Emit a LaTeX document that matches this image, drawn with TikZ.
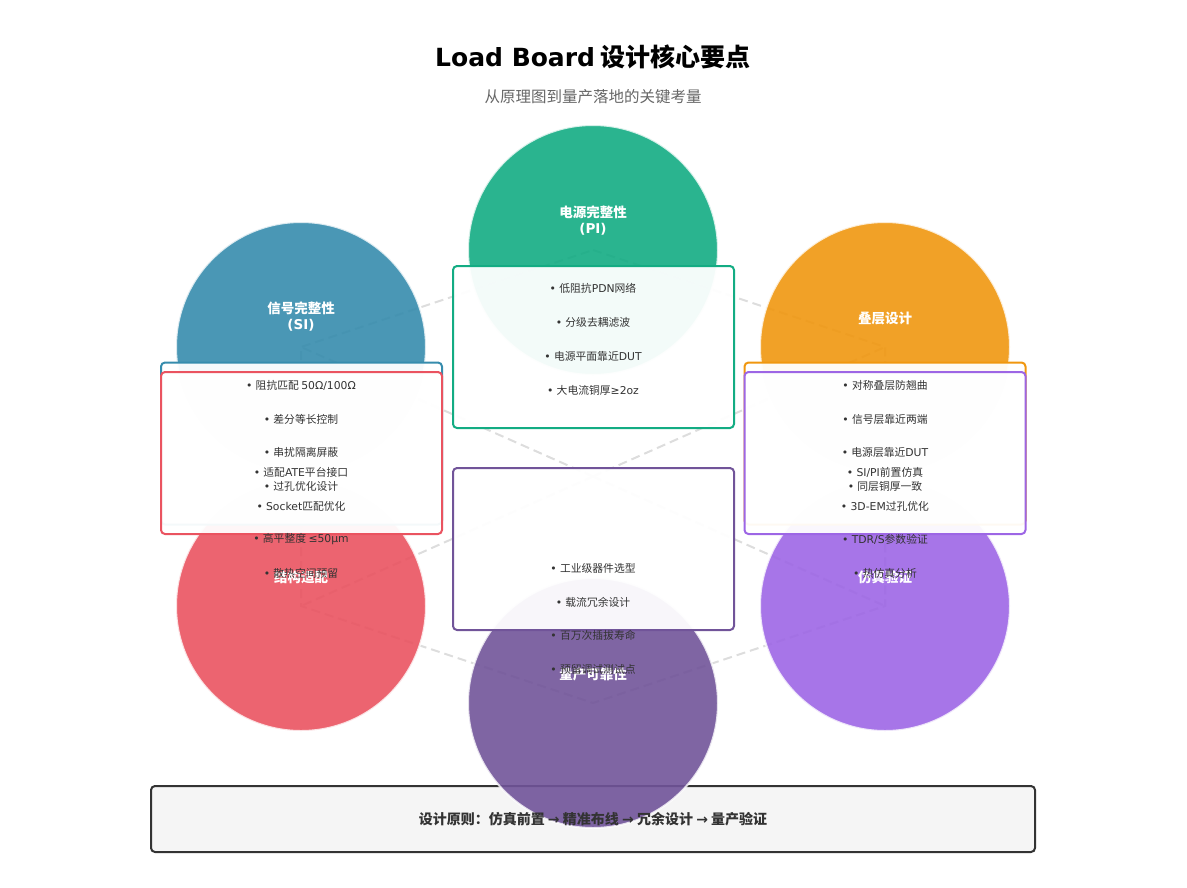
\documentclass[tikz,border=0pt]{standalone}
\usepackage{fontspec}
\setmainfont{Noto Sans CJK SC}
\newfontfamily\dejavu{DejaVu Sans}
\newcommand\bul{{\dejavu•}\hspace{0.3em}}
\newcommand\lat[1]{{\dejavu #1}}
\definecolor{cpi}{HTML}{13AC83}
\definecolor{csi}{HTML}{368CAD}
\definecolor{cst}{HTML}{F0970F}
\definecolor{cme}{HTML}{EA5360}
\definecolor{csim}{HTML}{9D66E5}
\definecolor{crel}{HTML}{715499}
\definecolor{txt}{HTML}{333333}
\definecolor{sub}{HTML}{666666}
\definecolor{hexline}{HTML}{DDDDDD}
\definecolor{footbg}{HTML}{F5F5F5}
\tikzset{
  circ/.style={circle, minimum size=250pt, inner sep=0pt, draw=white, draw opacity=0.8, line width=2pt, fill opacity=0.9},
  lab/.style={text=white, align=center, font=\fontsize{13.5}{16}\selectfont\bfseries},
  infobox/.style={rectangle, rounded corners=4pt, minimum width=281pt, minimum height=162pt, inner sep=0pt, fill=white, fill opacity=0.95, line width=2pt},
  item/.style={text=txt, font=\fontsize{10.8}{12}\selectfont, inner sep=0pt},
  hexl/.style={draw=hexline, line width=2pt, dash pattern=on 9pt off 5pt},
}
\begin{document}
\begin{tikzpicture}[x=1pt,y=-1pt]
\useasboundingbox (0,0) rectangle (1187,887);
% title
\node[font=\fontsize{25}{28}\selectfont\bfseries, text=black] (title) at (593,57) {{\dejavu\bfseries Load Board} 设计核心要点};
\node[font=\fontsize{15.5}{18}\selectfont, text=sub] (subtitle) at (593,97) {从原理图到量产落地的关键考量};
% vertex coordinates
\coordinate (vpi) at (593,250);
\coordinate (vst) at (885,347);
\coordinate (vsim) at (885,606);
\coordinate (vrel) at (593,703);
\coordinate (vme) at (301,606);
\coordinate (vsi) at (301,347);
\coordinate (hc) at (593,476.5);
% hexagon and spokes
\draw[hexl] (vpi) -- (vst) -- (vsim) -- (vrel) -- (vme) -- (vsi) -- cycle;
\foreach \v in {vst,vsim,vme,vsi} \draw[hexl] (hc) -- (\v);
% footer box
\node[rectangle, rounded corners=4pt, minimum width=884pt, minimum height=66pt, fill=footbg, draw=txt, line width=2pt] (foot) at (593,819) {};
% circles
\node[circ, fill=cpi] (pi) at (vpi) {};
\node[circ, fill=csi] (si) at (vsi) {};
\node[circ, fill=cst] (st) at (vst) {};
\node[circ, fill=cme] (me) at (vme) {};
\node[circ, fill=csim] (sim) at (vsim) {};
\node[circ, fill=crel] (rel) at (vrel) {};
% labels
\node[lab] (lpi) at (593,221) {电源完整性\\{\dejavu\bfseries (PI)}};
\node[lab] (lsi) at (301,317) {信号完整性\\{\dejavu\bfseries (SI)}};
\node[lab] (lst) at (885,318) {叠层设计};
\node[lab] (lme) at (301,577) {结构适配};
\node[lab] (lsim) at (885,577) {仿真验证};
\node[lab] (lrel) at (593,674) {量产可靠性};
% boxes
\node[infobox, draw=csi] (bsi) at (301.5,443.5) {};
\node[infobox, draw=cst] (bst) at (885,443.5) {};
\node[infobox, draw=cpi] (bpi) at (593.5,347) {};
\node[infobox, draw=crel] (brel) at (593.5,549) {};
\node[infobox, draw=cme] (bme) at (301.5,453) {};
\node[infobox, draw=csim] (bsim) at (885,453) {};
% PI items
\node[item] (pi1) at (593,288) {\bul 低阻抗\lat{PDN}网络};
\node[item] (pi2) at (593,322) {\bul 分级去耦滤波};
\node[item] (pi3) at (593,356) {\bul 电源平面靠近\lat{DUT}};
\node[item] (pi4) at (593,390) {\bul 大电流铜厚\lat{≥2oz}};
% SI items
\node[item] (si1) at (301,385) {\bul 阻抗匹配 \lat{50Ω/100Ω}};
\node[item] (si2) at (301,419) {\bul 差分等长控制};
\node[item] (si3) at (301,452) {\bul 串扰隔离屏蔽};
\node[item] (si4) at (301,486) {\bul 过孔优化设计};
% structure items
\node[item] (me1) at (301,472) {\bul 适配\lat{ATE}平台接口};
\node[item] (me2) at (301,506) {\bul \lat{Socket}匹配优化};
\node[item] (me3) at (301,539) {\bul 高平整度 \lat{≤50μm}};
\node[item] (me4) at (301,573) {\bul 散热空间预留};
% stack items
\node[item] (st1) at (885,385) {\bul 对称叠层防翘曲};
\node[item] (st2) at (885,419) {\bul 信号层靠近两端};
\node[item] (st3) at (885,452) {\bul 电源层靠近\lat{DUT}};
\node[item] (st4) at (885,486) {\bul 同层铜厚一致};
% simulation items
\node[item] (sm1) at (885,472) {\bul \lat{SI/PI}前置仿真};
\node[item] (sm2) at (885,506) {\bul \lat{3D-EM}过孔优化};
\node[item] (sm3) at (885,539) {\bul \lat{TDR/S}参数验证};
\node[item] (sm4) at (885,573) {\bul 热仿真分析};
% reliability items
\node[item] (rl1) at (593,568) {\bul 工业级器件选型};
\node[item] (rl2) at (593,602) {\bul 载流冗余设计};
\node[item] (rl3) at (593,635) {\bul 百万次插拔寿命};
\node[item] (rl4) at (593,669) {\bul 预留调试测试点};
% footer text
\node[text=txt, font=\fontsize{14}{16}\selectfont\bfseries] (foottext) at (593,819) {设计原则：仿真前置 {\dejavu\bfseries →} 精准布线 {\dejavu\bfseries →} 冗余设计 {\dejavu\bfseries →} 量产验证};
\end{tikzpicture}
\end{document}
